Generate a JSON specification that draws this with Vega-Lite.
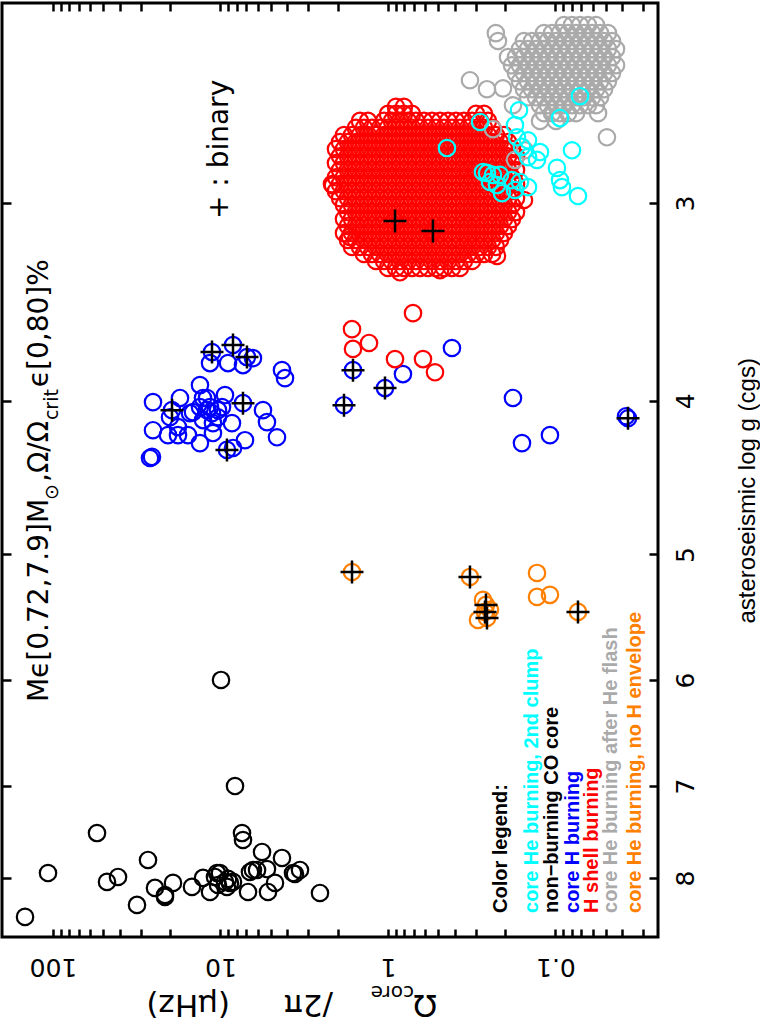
{
  "$schema": "https://vega.github.io/schema/vega-lite/v6.json",
  "width": 656,
  "height": 934,
  "autosize": "none",
  "padding": {"left": 2, "top": 3, "right": 102, "bottom": 88},
  "background": "white",
  "config": {
    "view": {"stroke": "black", "strokeWidth": 3},
    "axis": {"domain": false, "grid": false, "tickColor": "black", "labelColor": "black", "titleColor": "black"}
  },
  "datasets": {
    "pts": [
      {"w":9.93,"g":6.0,"c":"K"},{"w":8.19,"g":7.0,"c":"K"},{"w":54.6,"g":7.495,"c":"K"},{"w":7.44,"g":7.495,"c":"K"},{"w":7.34,"g":7.571,"c":"K"},{"w":27.09,"g":7.794,"c":"K"},{"w":5.65,"g":7.704,"c":"K"},{"w":4.294,"g":7.771,"c":"K"},{"w":107.1,"g":7.943,"c":"K"},{"w":40.9,"g":7.989,"c":"K"},{"w":47.6,"g":8.046,"c":"K"},{"w":6.40,"g":7.908,"c":"K"},{"w":5.278,"g":7.897,"c":"K"},{"w":3.353,"g":7.908,"c":"K"},{"w":3.592,"g":7.954,"c":"K"},{"w":10.49,"g":7.943,"c":"K"},{"w":24.61,"g":8.117,"c":"K"},{"w":21.45,"g":8.201,"c":"K"},{"w":19.21,"g":8.058,"c":"K"},{"w":14.80,"g":8.105,"c":"K"},{"w":12.72,"g":8.0,"c":"K"},{"w":11.55,"g":8.165,"c":"K"},{"w":10.79,"g":7.989,"c":"K"},{"w":10.07,"g":7.943,"c":"K"},{"w":9.40,"g":8.046,"c":"K"},{"w":8.78,"g":8.058,"c":"K"},{"w":9.15,"g":8.105,"c":"K"},{"w":8.42,"g":8.046,"c":"K"},{"w":10.35,"g":8.082,"c":"K"},{"w":9.02,"g":8.011,"c":"K"},{"w":6.85,"g":8.165,"c":"K"},{"w":6.67,"g":7.931,"c":"K"},{"w":6.05,"g":7.908,"c":"K"},{"w":5.205,"g":8.165,"c":"K"},{"w":4.727,"g":8.058,"c":"K"},{"w":3.692,"g":7.943,"c":"K"},{"w":2.547,"g":8.177,"c":"K"},{"w":31.51,"g":8.320,"c":"K"},{"w":21.45,"g":8.224,"c":"K"},{"w":146.9,"g":8.466,"c":"K"},
      {"w":11.24,"g":3.726,"c":"B","b":1},{"w":8.42,"g":3.688,"c":"B","b":1},{"w":6.95,"g":3.753,"c":"B","b":1},{"w":6.40,"g":3.759,"c":"B"},{"w":11.55,"g":3.786,"c":"B"},{"w":9.02,"g":3.786,"c":"B"},{"w":7.34,"g":3.797,"c":"B"},{"w":4.294,"g":3.825,"c":"B"},{"w":4.120,"g":3.870,"c":"B"},{"w":13.26,"g":3.909,"c":"B"},{"w":25.29,"g":4.007,"c":"B"},{"w":19.48,"g":4.054,"c":"B","b":1},{"w":17.45,"g":3.983,"c":"B"},{"w":12.04,"g":3.983,"c":"B"},{"w":9.40,"g":3.966,"c":"B"},{"w":7.34,"g":4.013,"c":"B","b":1},{"w":5.576,"g":4.054,"c":"B"},{"w":5.278,"g":4.125,"c":"B"},{"w":4.599,"g":4.217,"c":"B"},{"w":14.59,"g":4.066,"c":"B"},{"w":13.26,"g":4.036,"c":"B"},{"w":12.04,"g":4.054,"c":"B"},{"w":11.24,"g":4.072,"c":"B"},{"w":10.35,"g":4.096,"c":"B"},{"w":12.72,"g":4.113,"c":"B"},{"w":11.09,"g":4.131,"c":"B"},{"w":8.54,"g":4.131,"c":"B"},{"w":25.29,"g":4.174,"c":"B"},{"w":20.58,"g":4.204,"c":"B"},{"w":17.94,"g":4.204,"c":"B"},{"w":15.63,"g":4.204,"c":"B"},{"w":13.26,"g":4.253,"c":"B"},{"w":11.09,"g":4.191,"c":"B"},{"w":9.15,"g":4.295,"c":"B","b":1},{"w":8.42,"g":4.283,"c":"B"},{"w":7.14,"g":4.235,"c":"B"},{"w":25.64,"g":4.339,"c":"B"},{"w":26.36,"g":4.346,"c":"B"},{"w":17.94,"g":4.155,"c":"B"},{"w":11.55,"g":4.036,"c":"B"},{"w":9.79,"g":4.036,"c":"B"},{"w":15.21,"g":4.072,"c":"B"},{"w":12.72,"g":3.983,"c":"B"},{"w":10.35,"g":4.054,"c":"B"},{"w":20.02,"g":4.096,"c":"B"},{"w":1.618,"g":3.825,"c":"B","b":1},{"w":1.042,"g":3.926,"c":"B","b":1},{"w":1.831,"g":4.025,"c":"B","b":1},{"w":0.814,"g":3.847,"c":"B"},{"w":0.415,"g":3.704,"c":"B"},{"w":0.1794,"g":3.983,"c":"B"},{"w":0.1079,"g":4.204,"c":"B"},{"w":0.1585,"g":4.253,"c":"B"},{"w":0.0369,"g":4.102,"c":"B","b":1},{"w":0.0379,"g":4.090,"c":"B"},
      {"w":0.709,"g":3.521,"c":"R"},{"w":1.640,"g":3.604,"c":"R"},{"w":1.298,"g":3.677,"c":"R"},{"w":1.618,"g":3.709,"c":"R"},{"w":0.908,"g":3.764,"c":"R"},{"w":0.618,"g":3.764,"c":"R"},{"w":0.524,"g":3.837,"c":"R"},
      {"w":0.896,"g":2.609,"c":"R"},{"w":0.803,"g":2.609,"c":"R"},
      {"w":1.000,"g":2.636,"c":"R"},{"w":0.896,"g":2.636,"c":"R"},{"w":0.803,"g":2.636,"c":"R"},{"w":0.719,"g":2.636,"c":"R"},{"w":0.298,"g":2.636,"c":"R"},{"w":0.267,"g":2.636,"c":"R"},
      {"w":1.470,"g":2.663,"c":"R"},{"w":1.316,"g":2.663,"c":"R"},{"w":1.056,"g":2.663,"c":"R"},{"w":0.947,"g":2.663,"c":"R"},{"w":0.848,"g":2.663,"c":"R"},{"w":0.760,"g":2.663,"c":"R"},{"w":0.681,"g":2.663,"c":"R"},{"w":0.610,"g":2.663,"c":"R"},{"w":0.546,"g":2.663,"c":"R"},{"w":0.489,"g":2.663,"c":"R"},{"w":0.438,"g":2.663,"c":"R"},{"w":0.393,"g":2.663,"c":"R"},{"w":0.352,"g":2.663,"c":"R"},{"w":0.315,"g":2.663,"c":"R"},{"w":0.282,"g":2.663,"c":"R"},{"w":0.253,"g":2.663,"c":"R"},
      {"w":1.553,"g":2.690,"c":"R"},{"w":1.391,"g":2.690,"c":"R"},{"w":1.246,"g":2.690,"c":"R"},{"w":1.116,"g":2.690,"c":"R"},{"w":1.000,"g":2.690,"c":"R"},{"w":0.896,"g":2.690,"c":"R"},{"w":0.803,"g":2.690,"c":"R"},{"w":0.719,"g":2.690,"c":"R"},{"w":0.644,"g":2.690,"c":"R"},{"w":0.577,"g":2.690,"c":"R"},{"w":0.517,"g":2.690,"c":"R"},{"w":0.463,"g":2.690,"c":"R"},{"w":0.415,"g":2.690,"c":"R"},{"w":0.372,"g":2.690,"c":"R"},{"w":0.333,"g":2.690,"c":"R"},{"w":0.298,"g":2.690,"c":"R"},{"w":0.267,"g":2.690,"c":"R"},{"w":0.239,"g":2.690,"c":"R"},
      {"w":1.831,"g":2.718,"c":"R"},{"w":1.640,"g":2.718,"c":"R"},{"w":1.470,"g":2.718,"c":"R"},{"w":1.316,"g":2.718,"c":"R"},{"w":1.179,"g":2.718,"c":"R"},{"w":1.056,"g":2.718,"c":"R"},{"w":0.947,"g":2.718,"c":"R"},{"w":0.848,"g":2.718,"c":"R"},{"w":0.760,"g":2.718,"c":"R"},{"w":0.681,"g":2.718,"c":"R"},{"w":0.610,"g":2.718,"c":"R"},{"w":0.546,"g":2.718,"c":"R"},{"w":0.489,"g":2.718,"c":"R"},{"w":0.438,"g":2.718,"c":"R"},{"w":0.393,"g":2.718,"c":"R"},{"w":0.352,"g":2.718,"c":"R"},{"w":0.315,"g":2.718,"c":"R"},{"w":0.282,"g":2.718,"c":"R"},{"w":0.253,"g":2.718,"c":"R"},{"w":0.227,"g":2.718,"c":"R"},{"w":0.203,"g":2.718,"c":"R"},
      {"w":1.934,"g":2.746,"c":"R"},{"w":1.733,"g":2.746,"c":"R"},{"w":1.553,"g":2.746,"c":"R"},{"w":1.391,"g":2.746,"c":"R"},{"w":1.246,"g":2.746,"c":"R"},{"w":1.116,"g":2.746,"c":"R"},{"w":1.000,"g":2.746,"c":"R"},{"w":0.896,"g":2.746,"c":"R"},{"w":0.803,"g":2.746,"c":"R"},{"w":0.719,"g":2.746,"c":"R"},{"w":0.644,"g":2.746,"c":"R"},{"w":0.577,"g":2.746,"c":"R"},{"w":0.517,"g":2.746,"c":"R"},{"w":0.463,"g":2.746,"c":"R"},{"w":0.415,"g":2.746,"c":"R"},{"w":0.372,"g":2.746,"c":"R"},{"w":0.333,"g":2.746,"c":"R"},{"w":0.298,"g":2.746,"c":"R"},{"w":0.267,"g":2.746,"c":"R"},{"w":0.239,"g":2.746,"c":"R"},{"w":0.2145,"g":2.746,"c":"R"},{"w":0.192,"g":2.746,"c":"R"},
      {"w":2.044,"g":2.774,"c":"R"},{"w":1.831,"g":2.774,"c":"R"},{"w":1.640,"g":2.774,"c":"R"},{"w":1.470,"g":2.774,"c":"R"},{"w":1.316,"g":2.774,"c":"R"},{"w":1.179,"g":2.774,"c":"R"},{"w":1.056,"g":2.774,"c":"R"},{"w":0.947,"g":2.774,"c":"R"},{"w":0.848,"g":2.774,"c":"R"},{"w":0.760,"g":2.774,"c":"R"},{"w":0.681,"g":2.774,"c":"R"},{"w":0.610,"g":2.774,"c":"R"},{"w":0.546,"g":2.774,"c":"R"},{"w":0.489,"g":2.774,"c":"R"},{"w":0.438,"g":2.774,"c":"R"},{"w":0.393,"g":2.774,"c":"R"},{"w":0.352,"g":2.774,"c":"R"},{"w":0.315,"g":2.774,"c":"R"},{"w":0.282,"g":2.774,"c":"R"},{"w":0.253,"g":2.774,"c":"R"},{"w":0.227,"g":2.774,"c":"R"},{"w":0.203,"g":2.774,"c":"R"},{"w":0.182,"g":2.774,"c":"R"},
      {"w":1.934,"g":2.803,"c":"R"},{"w":1.733,"g":2.803,"c":"R"},{"w":1.553,"g":2.803,"c":"R"},{"w":1.391,"g":2.803,"c":"R"},{"w":1.246,"g":2.803,"c":"R"},{"w":1.116,"g":2.803,"c":"R"},{"w":1.000,"g":2.803,"c":"R"},{"w":0.896,"g":2.803,"c":"R"},{"w":0.803,"g":2.803,"c":"R"},{"w":0.719,"g":2.803,"c":"R"},{"w":0.644,"g":2.803,"c":"R"},{"w":0.577,"g":2.803,"c":"R"},{"w":0.517,"g":2.803,"c":"R"},{"w":0.463,"g":2.803,"c":"R"},{"w":0.415,"g":2.803,"c":"R"},{"w":0.372,"g":2.803,"c":"R"},{"w":0.333,"g":2.803,"c":"R"},{"w":0.298,"g":2.803,"c":"R"},{"w":0.267,"g":2.803,"c":"R"},{"w":0.239,"g":2.803,"c":"R"},{"w":0.2145,"g":2.803,"c":"R"},{"w":0.192,"g":2.803,"c":"R"},{"w":0.172,"g":2.803,"c":"R"},
      {"w":2.044,"g":2.831,"c":"R"},{"w":1.831,"g":2.831,"c":"R"},{"w":1.640,"g":2.831,"c":"R"},{"w":1.470,"g":2.831,"c":"R"},{"w":1.316,"g":2.831,"c":"R"},{"w":1.179,"g":2.831,"c":"R"},{"w":1.056,"g":2.831,"c":"R"},{"w":0.947,"g":2.831,"c":"R"},{"w":0.848,"g":2.831,"c":"R"},{"w":0.760,"g":2.831,"c":"R"},{"w":0.681,"g":2.831,"c":"R"},{"w":0.610,"g":2.831,"c":"R"},{"w":0.546,"g":2.831,"c":"R"},{"w":0.489,"g":2.831,"c":"R"},{"w":0.438,"g":2.831,"c":"R"},{"w":0.393,"g":2.831,"c":"R"},{"w":0.352,"g":2.831,"c":"R"},{"w":0.315,"g":2.831,"c":"R"},{"w":0.282,"g":2.831,"c":"R"},{"w":0.253,"g":2.831,"c":"R"},{"w":0.227,"g":2.831,"c":"R"},{"w":0.203,"g":2.831,"c":"R"},{"w":0.182,"g":2.831,"c":"R"},
      {"w":1.934,"g":2.860,"c":"R"},{"w":1.733,"g":2.860,"c":"R"},{"w":1.553,"g":2.860,"c":"R"},{"w":1.391,"g":2.860,"c":"R"},{"w":1.246,"g":2.860,"c":"R"},{"w":1.116,"g":2.860,"c":"R"},{"w":1.000,"g":2.860,"c":"R"},{"w":0.896,"g":2.860,"c":"R"},{"w":0.803,"g":2.860,"c":"R"},{"w":0.719,"g":2.860,"c":"R"},{"w":0.644,"g":2.860,"c":"R"},{"w":0.577,"g":2.860,"c":"R"},{"w":0.517,"g":2.860,"c":"R"},{"w":0.463,"g":2.860,"c":"R"},{"w":0.415,"g":2.860,"c":"R"},{"w":0.372,"g":2.860,"c":"R"},{"w":0.333,"g":2.860,"c":"R"},{"w":0.298,"g":2.860,"c":"R"},{"w":0.267,"g":2.860,"c":"R"},{"w":0.239,"g":2.860,"c":"R"},{"w":0.2145,"g":2.860,"c":"R"},{"w":0.192,"g":2.860,"c":"R"},{"w":0.172,"g":2.860,"c":"R"},
      {"w":2.044,"g":2.890,"c":"R"},{"w":1.831,"g":2.890,"c":"R"},{"w":1.640,"g":2.890,"c":"R"},{"w":1.470,"g":2.890,"c":"R"},{"w":1.316,"g":2.890,"c":"R"},{"w":1.179,"g":2.890,"c":"R"},{"w":1.056,"g":2.890,"c":"R"},{"w":0.947,"g":2.890,"c":"R"},{"w":0.848,"g":2.890,"c":"R"},{"w":0.760,"g":2.890,"c":"R"},{"w":0.681,"g":2.890,"c":"R"},{"w":0.610,"g":2.890,"c":"R"},{"w":0.546,"g":2.890,"c":"R"},{"w":0.489,"g":2.890,"c":"R"},{"w":0.438,"g":2.890,"c":"R"},{"w":0.393,"g":2.890,"c":"R"},{"w":0.352,"g":2.890,"c":"R"},{"w":0.315,"g":2.890,"c":"R"},{"w":0.282,"g":2.890,"c":"R"},{"w":0.253,"g":2.890,"c":"R"},{"w":0.227,"g":2.890,"c":"R"},{"w":0.203,"g":2.890,"c":"R"},{"w":0.182,"g":2.890,"c":"R"},
      {"w":2.160,"g":2.919,"c":"R"},{"w":1.934,"g":2.919,"c":"R"},{"w":1.733,"g":2.919,"c":"R"},{"w":1.553,"g":2.919,"c":"R"},{"w":1.391,"g":2.919,"c":"R"},{"w":1.246,"g":2.919,"c":"R"},{"w":1.116,"g":2.919,"c":"R"},{"w":1.000,"g":2.919,"c":"R"},{"w":0.896,"g":2.919,"c":"R"},{"w":0.803,"g":2.919,"c":"R"},{"w":0.719,"g":2.919,"c":"R"},{"w":0.644,"g":2.919,"c":"R"},{"w":0.577,"g":2.919,"c":"R"},{"w":0.517,"g":2.919,"c":"R"},{"w":0.463,"g":2.919,"c":"R"},{"w":0.415,"g":2.919,"c":"R"},{"w":0.372,"g":2.919,"c":"R"},{"w":0.333,"g":2.919,"c":"R"},{"w":0.298,"g":2.919,"c":"R"},{"w":0.267,"g":2.919,"c":"R"},{"w":0.239,"g":2.919,"c":"R"},{"w":0.2145,"g":2.919,"c":"R"},{"w":0.192,"g":2.919,"c":"R"},{"w":0.172,"g":2.919,"c":"R"},
      {"w":2.044,"g":2.949,"c":"R"},{"w":1.831,"g":2.949,"c":"R"},{"w":1.640,"g":2.949,"c":"R"},{"w":1.470,"g":2.949,"c":"R"},{"w":1.316,"g":2.949,"c":"R"},{"w":1.179,"g":2.949,"c":"R"},{"w":1.056,"g":2.949,"c":"R"},{"w":0.947,"g":2.949,"c":"R"},{"w":0.848,"g":2.949,"c":"R"},{"w":0.760,"g":2.949,"c":"R"},{"w":0.681,"g":2.949,"c":"R"},{"w":0.610,"g":2.949,"c":"R"},{"w":0.546,"g":2.949,"c":"R"},{"w":0.489,"g":2.949,"c":"R"},{"w":0.438,"g":2.949,"c":"R"},{"w":0.393,"g":2.949,"c":"R"},{"w":0.352,"g":2.949,"c":"R"},{"w":0.315,"g":2.949,"c":"R"},{"w":0.282,"g":2.949,"c":"R"},{"w":0.253,"g":2.949,"c":"R"},{"w":0.227,"g":2.949,"c":"R"},{"w":0.203,"g":2.949,"c":"R"},{"w":0.182,"g":2.949,"c":"R"},
      {"w":1.934,"g":2.979,"c":"R"},{"w":1.733,"g":2.979,"c":"R"},{"w":1.553,"g":2.979,"c":"R"},{"w":1.391,"g":2.979,"c":"R"},{"w":1.246,"g":2.979,"c":"R"},{"w":1.116,"g":2.979,"c":"R"},{"w":1.000,"g":2.979,"c":"R"},{"w":0.896,"g":2.979,"c":"R"},{"w":0.803,"g":2.979,"c":"R"},{"w":0.719,"g":2.979,"c":"R"},{"w":0.644,"g":2.979,"c":"R"},{"w":0.577,"g":2.979,"c":"R"},{"w":0.517,"g":2.979,"c":"R"},{"w":0.463,"g":2.979,"c":"R"},{"w":0.415,"g":2.979,"c":"R"},{"w":0.372,"g":2.979,"c":"R"},{"w":0.333,"g":2.979,"c":"R"},{"w":0.298,"g":2.979,"c":"R"},{"w":0.267,"g":2.979,"c":"R"},{"w":0.239,"g":2.979,"c":"R"},{"w":0.2145,"g":2.979,"c":"R"},{"w":0.192,"g":2.979,"c":"R"},{"w":0.172,"g":2.979,"c":"R"},
      {"w":1.831,"g":3.009,"c":"R"},{"w":1.640,"g":3.009,"c":"R"},{"w":1.470,"g":3.009,"c":"R"},{"w":1.316,"g":3.009,"c":"R"},{"w":1.179,"g":3.009,"c":"R"},{"w":1.056,"g":3.009,"c":"R"},{"w":0.947,"g":3.009,"c":"R"},{"w":0.848,"g":3.009,"c":"R"},{"w":0.760,"g":3.009,"c":"R"},{"w":0.681,"g":3.009,"c":"R"},{"w":0.610,"g":3.009,"c":"R"},{"w":0.546,"g":3.009,"c":"R"},{"w":0.489,"g":3.009,"c":"R"},{"w":0.438,"g":3.009,"c":"R"},{"w":0.393,"g":3.009,"c":"R"},{"w":0.352,"g":3.009,"c":"R"},{"w":0.315,"g":3.009,"c":"R"},{"w":0.282,"g":3.009,"c":"R"},{"w":0.253,"g":3.009,"c":"R"},{"w":0.227,"g":3.009,"c":"R"},{"w":0.203,"g":3.009,"c":"R"},{"w":0.182,"g":3.009,"c":"R"},
      {"w":1.733,"g":3.040,"c":"R"},{"w":1.553,"g":3.040,"c":"R"},{"w":1.391,"g":3.040,"c":"R"},{"w":1.246,"g":3.040,"c":"R"},{"w":1.116,"g":3.040,"c":"R"},{"w":1.000,"g":3.040,"c":"R"},{"w":0.896,"g":3.040,"c":"R"},{"w":0.803,"g":3.040,"c":"R"},{"w":0.719,"g":3.040,"c":"R"},{"w":0.644,"g":3.040,"c":"R"},{"w":0.577,"g":3.040,"c":"R"},{"w":0.517,"g":3.040,"c":"R"},{"w":0.463,"g":3.040,"c":"R"},{"w":0.415,"g":3.040,"c":"R"},{"w":0.372,"g":3.040,"c":"R"},{"w":0.333,"g":3.040,"c":"R"},{"w":0.298,"g":3.040,"c":"R"},{"w":0.267,"g":3.040,"c":"R"},{"w":0.239,"g":3.040,"c":"R"},{"w":0.2145,"g":3.040,"c":"R"},{"w":0.192,"g":3.040,"c":"R"},{"w":0.172,"g":3.040,"c":"R"},
      {"w":1.831,"g":3.071,"c":"R"},{"w":1.640,"g":3.071,"c":"R"},{"w":1.470,"g":3.071,"c":"R"},{"w":1.316,"g":3.071,"c":"R"},{"w":1.179,"g":3.071,"c":"R"},{"w":1.056,"g":3.071,"c":"R"},{"w":0.947,"g":3.071,"c":"R"},{"w":0.848,"g":3.071,"c":"R"},{"w":0.760,"g":3.071,"c":"R"},{"w":0.681,"g":3.071,"c":"R"},{"w":0.610,"g":3.071,"c":"R"},{"w":0.546,"g":3.071,"c":"R"},{"w":0.489,"g":3.071,"c":"R"},{"w":0.438,"g":3.071,"c":"R"},{"w":0.393,"g":3.071,"c":"R"},{"w":0.352,"g":3.071,"c":"R"},{"w":0.315,"g":3.071,"c":"R"},{"w":0.282,"g":3.071,"c":"R"},{"w":0.253,"g":3.071,"c":"R"},{"w":0.227,"g":3.071,"c":"R"},{"w":0.203,"g":3.071,"c":"R"},{"w":0.182,"g":3.071,"c":"R"},
      {"w":1.733,"g":3.102,"c":"R"},{"w":1.553,"g":3.102,"c":"R"},{"w":1.391,"g":3.102,"c":"R"},{"w":1.246,"g":3.102,"c":"R"},{"w":1.116,"g":3.102,"c":"R"},{"w":1.000,"g":3.102,"c":"R"},{"w":0.896,"g":3.102,"c":"R"},{"w":0.803,"g":3.102,"c":"R"},{"w":0.719,"g":3.102,"c":"R"},{"w":0.644,"g":3.102,"c":"R"},{"w":0.577,"g":3.102,"c":"R"},{"w":0.517,"g":3.102,"c":"R"},{"w":0.463,"g":3.102,"c":"R"},{"w":0.415,"g":3.102,"c":"R"},{"w":0.372,"g":3.102,"c":"R"},{"w":0.333,"g":3.102,"c":"R"},{"w":0.298,"g":3.102,"c":"R"},{"w":0.267,"g":3.102,"c":"R"},{"w":0.239,"g":3.102,"c":"R"},{"w":0.2145,"g":3.102,"c":"R"},{"w":0.192,"g":3.102,"c":"R"},
      {"w":1.831,"g":3.134,"c":"R"},{"w":1.640,"g":3.134,"c":"R"},{"w":1.470,"g":3.134,"c":"R"},{"w":1.316,"g":3.134,"c":"R"},{"w":1.179,"g":3.134,"c":"R"},{"w":1.056,"g":3.134,"c":"R"},{"w":0.947,"g":3.134,"c":"R"},{"w":0.848,"g":3.134,"c":"R"},{"w":0.760,"g":3.134,"c":"R"},{"w":0.681,"g":3.134,"c":"R"},{"w":0.610,"g":3.134,"c":"R"},{"w":0.546,"g":3.134,"c":"R"},{"w":0.489,"g":3.134,"c":"R"},{"w":0.438,"g":3.134,"c":"R"},{"w":0.393,"g":3.134,"c":"R"},{"w":0.352,"g":3.134,"c":"R"},{"w":0.315,"g":3.134,"c":"R"},{"w":0.282,"g":3.134,"c":"R"},{"w":0.253,"g":3.134,"c":"R"},{"w":0.227,"g":3.134,"c":"R"},{"w":0.203,"g":3.134,"c":"R"},
      {"w":1.733,"g":3.166,"c":"R"},{"w":1.553,"g":3.166,"c":"R"},{"w":1.391,"g":3.166,"c":"R"},{"w":1.246,"g":3.166,"c":"R"},{"w":1.116,"g":3.166,"c":"R"},{"w":1.000,"g":3.166,"c":"R"},{"w":0.896,"g":3.166,"c":"R"},{"w":0.803,"g":3.166,"c":"R"},{"w":0.719,"g":3.166,"c":"R"},{"w":0.644,"g":3.166,"c":"R"},{"w":0.577,"g":3.166,"c":"R"},{"w":0.517,"g":3.166,"c":"R"},{"w":0.463,"g":3.166,"c":"R"},{"w":0.415,"g":3.166,"c":"R"},{"w":0.372,"g":3.166,"c":"R"},{"w":0.333,"g":3.166,"c":"R"},{"w":0.298,"g":3.166,"c":"R"},{"w":0.267,"g":3.166,"c":"R"},{"w":0.239,"g":3.166,"c":"R"},{"w":0.2145,"g":3.166,"c":"R"},
      {"w":1.640,"g":3.198,"c":"R"},{"w":1.470,"g":3.198,"c":"R"},{"w":1.316,"g":3.198,"c":"R"},{"w":1.179,"g":3.198,"c":"R"},{"w":1.056,"g":3.198,"c":"R"},{"w":0.947,"g":3.198,"c":"R"},{"w":0.848,"g":3.198,"c":"R"},{"w":0.760,"g":3.198,"c":"R"},{"w":0.681,"g":3.198,"c":"R"},{"w":0.610,"g":3.198,"c":"R"},{"w":0.546,"g":3.198,"c":"R"},{"w":0.489,"g":3.198,"c":"R"},{"w":0.438,"g":3.198,"c":"R"},{"w":0.393,"g":3.198,"c":"R"},{"w":0.352,"g":3.198,"c":"R"},{"w":0.315,"g":3.198,"c":"R"},{"w":0.282,"g":3.198,"c":"R"},{"w":0.253,"g":3.198,"c":"R"},{"w":0.227,"g":3.198,"c":"R"},
      {"w":1.391,"g":3.231,"c":"R"},{"w":1.246,"g":3.231,"c":"R"},{"w":1.116,"g":3.231,"c":"R"},{"w":1.000,"g":3.231,"c":"R"},{"w":0.896,"g":3.231,"c":"R"},{"w":0.803,"g":3.231,"c":"R"},{"w":0.719,"g":3.231,"c":"R"},{"w":0.644,"g":3.231,"c":"R"},{"w":0.577,"g":3.231,"c":"R"},{"w":0.517,"g":3.231,"c":"R"},{"w":0.463,"g":3.231,"c":"R"},{"w":0.415,"g":3.231,"c":"R"},{"w":0.372,"g":3.231,"c":"R"},{"w":0.333,"g":3.231,"c":"R"},{"w":0.298,"g":3.231,"c":"R"},{"w":0.267,"g":3.231,"c":"R"},{"w":0.239,"g":3.231,"c":"R"},
      {"w":1.179,"g":3.264,"c":"R"},{"w":1.056,"g":3.264,"c":"R"},{"w":0.947,"g":3.264,"c":"R"},{"w":0.848,"g":3.264,"c":"R"},{"w":0.760,"g":3.264,"c":"R"},{"w":0.681,"g":3.264,"c":"R"},{"w":0.610,"g":3.264,"c":"R"},{"w":0.546,"g":3.264,"c":"R"},{"w":0.489,"g":3.264,"c":"R"},{"w":0.438,"g":3.264,"c":"R"},{"w":0.393,"g":3.264,"c":"R"},{"w":0.352,"g":3.264,"c":"R"},{"w":0.315,"g":3.264,"c":"R"},
      {"w":1.000,"g":3.297,"c":"R"},{"w":0.896,"g":3.297,"c":"R"},{"w":0.803,"g":3.297,"c":"R"},{"w":0.719,"g":3.297,"c":"R"},{"w":0.644,"g":3.297,"c":"R"},{"w":0.577,"g":3.297,"c":"R"},{"w":0.517,"g":3.297,"c":"R"},{"w":0.463,"g":3.297,"c":"R"},{"w":0.415,"g":3.297,"c":"R"},{"w":0.372,"g":3.297,"c":"R"},
      {"w":2.130,"g":2.925,"c":"R"},{"w":1.686,"g":3.152,"c":"R"},{"w":0.848,"g":3.318,"c":"R"},{"w":0.489,"g":3.308,"c":"R"},{"w":0.2236,"g":3.240,"c":"R"},{"w":0.1542,"g":2.987,"c":"R"},
      {"w":0.908,"g":3.080,"c":"R","b":1},{"w":0.539,"g":3.125,"c":"R","b":1},
      {"w":1.640,"g":5.129,"c":"O","b":1},{"w":0.324,"g":5.166,"c":"O","b":1},{"w":0.2709,"g":5.341,"c":"O"},{"w":0.2636,"g":5.435,"c":"O","b":1},{"w":0.2460,"g":5.419,"c":"O"},{"w":0.2902,"g":5.499,"c":"O"},{"w":0.2564,"g":5.483,"c":"O","b":1},{"w":0.2600,"g":5.380,"c":"O","b":1},{"w":0.1289,"g":5.136,"c":"O"},{"w":0.1289,"g":5.318,"c":"O"},{"w":0.1079,"g":5.302,"c":"O"},{"w":0.0734,"g":5.435,"c":"O","b":1},
      {"w":0.0890,"g":2.317,"c":"G"},{"w":0.0797,"g":2.317,"c":"G"},{"w":0.0714,"g":2.317,"c":"G"},{"w":0.0640,"g":2.317,"c":"G"},{"w":0.0573,"g":2.317,"c":"G"},
      {"w":0.1171,"g":2.344,"c":"G"},{"w":0.1049,"g":2.344,"c":"G"},{"w":0.0940,"g":2.344,"c":"G"},{"w":0.0842,"g":2.344,"c":"G"},{"w":0.0754,"g":2.344,"c":"G"},{"w":0.0676,"g":2.344,"c":"G"},{"w":0.0605,"g":2.344,"c":"G"},{"w":0.0542,"g":2.344,"c":"G"},{"w":0.0486,"g":2.344,"c":"G"},{"w":0.227,"g":2.344,"c":"G"},
      {"w":0.1542,"g":2.371,"c":"G"},{"w":0.1381,"g":2.371,"c":"G"},{"w":0.1237,"g":2.371,"c":"G"},{"w":0.1109,"g":2.371,"c":"G"},{"w":0.0993,"g":2.371,"c":"G"},{"w":0.0890,"g":2.371,"c":"G"},{"w":0.0797,"g":2.371,"c":"G"},{"w":0.0714,"g":2.371,"c":"G"},{"w":0.0640,"g":2.371,"c":"G"},{"w":0.0573,"g":2.371,"c":"G"},{"w":0.0513,"g":2.371,"c":"G"},{"w":0.0460,"g":2.371,"c":"G"},{"w":0.2205,"g":2.371,"c":"G"},
      {"w":0.1629,"g":2.399,"c":"G"},{"w":0.1459,"g":2.399,"c":"G"},{"w":0.1307,"g":2.399,"c":"G"},{"w":0.1171,"g":2.399,"c":"G"},{"w":0.1049,"g":2.399,"c":"G"},{"w":0.0940,"g":2.399,"c":"G"},{"w":0.0842,"g":2.399,"c":"G"},{"w":0.0754,"g":2.399,"c":"G"},{"w":0.0676,"g":2.399,"c":"G"},{"w":0.0605,"g":2.399,"c":"G"},{"w":0.0542,"g":2.399,"c":"G"},{"w":0.0486,"g":2.399,"c":"G"},{"w":0.0435,"g":2.399,"c":"G"},
      {"w":0.1921,"g":2.427,"c":"G"},{"w":0.1721,"g":2.427,"c":"G"},{"w":0.1542,"g":2.427,"c":"G"},{"w":0.1381,"g":2.427,"c":"G"},{"w":0.1237,"g":2.427,"c":"G"},{"w":0.1109,"g":2.427,"c":"G"},{"w":0.0993,"g":2.427,"c":"G"},{"w":0.0890,"g":2.427,"c":"G"},{"w":0.0797,"g":2.427,"c":"G"},{"w":0.0714,"g":2.427,"c":"G"},{"w":0.0640,"g":2.427,"c":"G"},{"w":0.0573,"g":2.427,"c":"G"},{"w":0.0513,"g":2.427,"c":"G"},{"w":0.0460,"g":2.427,"c":"G"},
      {"w":0.1818,"g":2.456,"c":"G"},{"w":0.1629,"g":2.456,"c":"G"},{"w":0.1459,"g":2.456,"c":"G"},{"w":0.1307,"g":2.456,"c":"G"},{"w":0.1171,"g":2.456,"c":"G"},{"w":0.1049,"g":2.456,"c":"G"},{"w":0.0940,"g":2.456,"c":"G"},{"w":0.0842,"g":2.456,"c":"G"},{"w":0.0754,"g":2.456,"c":"G"},{"w":0.0676,"g":2.456,"c":"G"},{"w":0.0605,"g":2.456,"c":"G"},{"w":0.0542,"g":2.456,"c":"G"},{"w":0.0486,"g":2.456,"c":"G"},{"w":0.0435,"g":2.456,"c":"G"},
      {"w":0.1721,"g":2.484,"c":"G"},{"w":0.1542,"g":2.484,"c":"G"},{"w":0.1381,"g":2.484,"c":"G"},{"w":0.1237,"g":2.484,"c":"G"},{"w":0.1109,"g":2.484,"c":"G"},{"w":0.0993,"g":2.484,"c":"G"},{"w":0.0890,"g":2.484,"c":"G"},{"w":0.0797,"g":2.484,"c":"G"},{"w":0.0714,"g":2.484,"c":"G"},{"w":0.0640,"g":2.484,"c":"G"},{"w":0.0573,"g":2.484,"c":"G"},{"w":0.0513,"g":2.484,"c":"G"},{"w":0.0460,"g":2.484,"c":"G"},
      {"w":0.1629,"g":2.514,"c":"G"},{"w":0.1459,"g":2.514,"c":"G"},{"w":0.1307,"g":2.514,"c":"G"},{"w":0.1171,"g":2.514,"c":"G"},{"w":0.1049,"g":2.514,"c":"G"},{"w":0.0940,"g":2.514,"c":"G"},{"w":0.0842,"g":2.514,"c":"G"},{"w":0.0754,"g":2.514,"c":"G"},{"w":0.0676,"g":2.514,"c":"G"},{"w":0.0605,"g":2.514,"c":"G"},{"w":0.0542,"g":2.514,"c":"G"},{"w":0.0486,"g":2.514,"c":"G"},{"w":0.324,"g":2.510,"c":"G"},
      {"w":0.1542,"g":2.543,"c":"G"},{"w":0.1381,"g":2.543,"c":"G"},{"w":0.1237,"g":2.543,"c":"G"},{"w":0.1109,"g":2.543,"c":"G"},{"w":0.0993,"g":2.543,"c":"G"},{"w":0.0890,"g":2.543,"c":"G"},{"w":0.0797,"g":2.543,"c":"G"},{"w":0.0714,"g":2.543,"c":"G"},{"w":0.0640,"g":2.543,"c":"G"},{"w":0.0573,"g":2.543,"c":"G"},{"w":0.0513,"g":2.543,"c":"G"},{"w":0.2564,"g":2.543,"c":"G"},{"w":0.2058,"g":2.540,"c":"G"},
      {"w":0.1459,"g":2.573,"c":"G"},{"w":0.1307,"g":2.573,"c":"G"},{"w":0.1171,"g":2.573,"c":"G"},{"w":0.1049,"g":2.573,"c":"G"},{"w":0.0940,"g":2.573,"c":"G"},{"w":0.0842,"g":2.573,"c":"G"},{"w":0.0754,"g":2.573,"c":"G"},{"w":0.0676,"g":2.573,"c":"G"},{"w":0.0605,"g":2.573,"c":"G"},{"w":0.0542,"g":2.573,"c":"G"},
      {"w":0.1237,"g":2.603,"c":"G"},{"w":0.1109,"g":2.603,"c":"G"},{"w":0.0993,"g":2.603,"c":"G"},{"w":0.0890,"g":2.603,"c":"G"},{"w":0.0797,"g":2.603,"c":"G"},{"w":0.0714,"g":2.603,"c":"G"},{"w":0.0640,"g":2.603,"c":"G"},{"w":0.0573,"g":2.603,"c":"G"},{"w":0.1794,"g":2.603,"c":"G"},
      {"w":0.1171,"g":2.633,"c":"G"},{"w":0.1049,"g":2.633,"c":"G"},{"w":0.0940,"g":2.633,"c":"G"},{"w":0.0842,"g":2.633,"c":"G"},{"w":0.0754,"g":2.633,"c":"G"},{"w":0.0557,"g":2.633,"c":"G"},
      {"w":0.1237,"g":2.663,"c":"G"},{"w":0.0993,"g":2.663,"c":"G"},{"w":0.2361,"g":2.695,"c":"G"},{"w":0.0493,"g":2.727,"c":"G"},{"w":0.1521,"g":2.779,"c":"G"},{"w":0.1745,"g":2.818,"c":"G"},
      {"w":0.0714,"g":2.569,"c":"C"},{"w":0.0940,"g":2.652,"c":"C"},{"w":0.1651,"g":2.622,"c":"C"},{"w":0.282,"g":2.667,"c":"C"},{"w":0.4444,"g":2.770,"c":"C"},{"w":0.1745,"g":2.679,"c":"C"},{"w":0.1698,"g":2.727,"c":"C"},{"w":0.1459,"g":2.739,"c":"C"},{"w":0.1585,"g":2.765,"c":"C"},{"w":0.1237,"g":2.786,"c":"C"},{"w":0.1459,"g":2.807,"c":"C"},{"w":0.1289,"g":2.818,"c":"C"},{"w":0.0797,"g":2.779,"c":"C"},{"w":0.0980,"g":2.851,"c":"C"},{"w":0.0940,"g":2.902,"c":"C"},{"w":0.0915,"g":2.932,"c":"C"},{"w":0.0734,"g":2.970,"c":"C"},{"w":0.2564,"g":2.872,"c":"C"},{"w":0.2361,"g":2.880,"c":"C"},{"w":0.2145,"g":2.880,"c":"C"},{"w":0.2460,"g":2.910,"c":"C"},{"w":0.2086,"g":2.958,"c":"C"},{"w":0.1745,"g":2.944,"c":"C"},{"w":0.1629,"g":2.910,"c":"C"},{"w":0.1459,"g":2.932,"c":"C"},{"w":0.1818,"g":2.902,"c":"C"},{"w":0.2709,"g":2.868,"c":"C"},{"w":0.2236,"g":2.923,"c":"C"}
    ],
    "ann": [
      {"t":"Mϵ[0.72,7.9]M","w":107.1,"g":6.196},
      {"t":",Ω/Ω","w":107.1,"g":4.500},
      {"t":"ϵ[0,80]%","w":107.1,"g":3.921}
    ],
    "sub": [
      {"t":"⊙","w":93.36,"g":4.619},
      {"t":"crit","w":93.36,"g":4.113}
    ],
    "bin": [{"t":"+ : binary","w":9.02,"g":3.071}],
    "leg": [
      {"t":"Color legend:","w":0.1948,"g":8.418,"c":"K"},
      {"t":"core He burning, 2nd clump","w":0.1272,"g":8.418,"c":"C"},
      {"t":"non−burning CO core","w":0.0966,"g":8.418,"c":"K"},
      {"t":"core H burning","w":0.0724,"g":8.418,"c":"B"},
      {"t":"H shell burning","w":0.0557,"g":8.418,"c":"R"},
      {"t":"core He burning after He flash","w":0.0429,"g":8.418,"c":"G"},
      {"t":"core He burning, no H envelope","w":0.0309,"g":8.418,"c":"O"}
    ],
    "xt": [
      {"t":"Ω","w":0.510,"g":9.483},
      {"t":"/2π","w":2.130,"g":9.483},
      {"t":"(μHz)","w":8.78,"g":9.483}
    ],
    "xs": [{"t":"core","w":0.6995,"g":9.359}]
  },
  "layer": [
    {
      "data": {"name": "pts"},
      "mark": {"type": "point", "shape": "circle", "filled": false, "size": 270, "strokeWidth": 2.2, "opacity": 1},
      "encoding": {
        "x": {"field": "w", "type": "quantitative",
          "scale": {"type": "log", "domain": [0.02443, 201.6], "reverse": true, "nice": false},
          "axis": {"orient": "bottom", "title": null,
            "values": [0.03,0.04,0.05,0.06,0.07,0.08,0.09,0.1,0.2,0.3,0.4,0.5,0.6,0.7,0.8,0.9,1,2,3,4,5,6,7,8,9,10,20,30,40,50,60,70,80,90,100],
            "labelExpr": "datum.value === 100 ? '100' : datum.value === 10 ? '10' : datum.value === 1 ? '1' : datum.value === 0.1 ? '0.1' : ''",
            "tickSize": -8, "tickWidth": 2.5,
            "labelAngle": 180, "labelAlign": "center", "labelBaseline": "alphabetic", "labelPadding": 29,
            "labelFont": "DejaVu Sans", "labelFontSize": 25, "labelOverlap": false, "labelFlush": false,
            "encode": {"ticks": {"update": {"y2": {"signal": "(datum.value === 0.1 || datum.value === 1 || datum.value === 10 || datum.value === 100) ? -13 : -8"}}}}
          }
        },
        "y": {"field": "g", "type": "quantitative",
          "scale": {"type": "log", "domain": [2.2436, 8.717], "reverse": true, "nice": false},
          "axis": {"orient": "right", "values": [3,4,5,6,7,8], "labelExpr": "'' + datum.value",
            "tickSize": -9, "tickWidth": 2.5,
            "labelAngle": 270, "labelAlign": "center", "labelBaseline": "alphabetic", "labelPadding": 44,
            "labelFont": "DejaVu Sans", "labelFontSize": 25, "labelOverlap": false, "labelFlush": false,
            "title": "asteroseismic log g (cgs)", "titleAngle": 270, "titleAlign": "left", "titleBaseline": "alphabetic",
            "titleX": 96, "titleY": 620, "titleFont": "Liberation Sans", "titleFontSize": 24, "titleFontWeight": "normal"
          }
        },
        "color": {"field": "c", "type": "nominal",
          "scale": {"domain": ["K","B","R","O","G","C"], "range": ["#000000","#0000ff","#ff0000","#ff8000","#aaaaaa","#00ffff"]},
          "legend": null}
      }
    },
    {
      "data": {"name": "pts"},
      "transform": [{"filter": "datum.b === 1"}],
      "mark": {"type": "point", "shape": "M-1,0L1,0M0,-1L0,1", "filled": false, "size": 529, "strokeWidth": 2.5, "color": "black", "opacity": 1},
      "encoding": {
        "x": {"field": "w", "type": "quantitative",
          "scale": {"type": "log", "domain": [0.02443, 201.6], "reverse": true, "nice": false},
          "axis": {"orient": "top", "title": null, "labels": false,
            "values": [0.03,0.04,0.05,0.06,0.07,0.08,0.09,0.1,0.2,0.3,0.4,0.5,0.6,0.7,0.8,0.9,1,2,3,4,5,6,7,8,9,10,20,30,40,50,60,70,80,90,100],
            "tickSize": -8, "tickWidth": 2.5,
            "encode": {"ticks": {"update": {"y2": {"signal": "(datum.value === 0.1 || datum.value === 1 || datum.value === 10 || datum.value === 100) ? 13 : 8"}}}}
          }
        },
        "y": {"field": "g", "type": "quantitative",
          "scale": {"type": "log", "domain": [2.2436, 8.717], "reverse": true, "nice": false},
          "axis": {"orient": "left", "values": [3,4,5,6,7,8], "labels": false, "title": null, "tickSize": -9, "tickWidth": 2.5}
        }
      }
    },
    {
      "data": {"name": "ann"},
      "mark": {"type": "text", "angle": 270, "align": "left", "baseline": "alphabetic", "font": "DejaVu Sans", "fontSize": 28, "color": "black"},
      "encoding": {
        "x": {"field": "w", "type": "quantitative", "scale": {"type": "log", "domain": [0.02443, 201.6], "reverse": true, "nice": false}, "axis": null},
        "y": {"field": "g", "type": "quantitative", "scale": {"type": "log", "domain": [2.2436, 8.717], "reverse": true, "nice": false}, "axis": null},
        "text": {"field": "t"}
      }
    },
    {
      "data": {"name": "sub"},
      "mark": {"type": "text", "angle": 270, "align": "left", "baseline": "alphabetic", "font": "DejaVu Sans", "fontSize": 19, "color": "black"},
      "encoding": {
        "x": {"field": "w", "type": "quantitative", "scale": {"type": "log", "domain": [0.02443, 201.6], "reverse": true, "nice": false}, "axis": null},
        "y": {"field": "g", "type": "quantitative", "scale": {"type": "log", "domain": [2.2436, 8.717], "reverse": true, "nice": false}, "axis": null},
        "text": {"field": "t"}
      }
    },
    {
      "data": {"name": "bin"},
      "mark": {"type": "text", "angle": 270, "align": "left", "baseline": "alphabetic", "font": "DejaVu Sans", "fontSize": 28, "color": "black"},
      "encoding": {
        "x": {"field": "w", "type": "quantitative", "scale": {"type": "log", "domain": [0.02443, 201.6], "reverse": true, "nice": false}, "axis": null},
        "y": {"field": "g", "type": "quantitative", "scale": {"type": "log", "domain": [2.2436, 8.717], "reverse": true, "nice": false}, "axis": null},
        "text": {"field": "t"}
      }
    },
    {
      "data": {"name": "leg"},
      "mark": {"type": "text", "angle": 270, "align": "left", "baseline": "alphabetic", "font": "Liberation Sans", "fontWeight": "bold", "fontSize": 20},
      "encoding": {
        "x": {"field": "w", "type": "quantitative", "scale": {"type": "log", "domain": [0.02443, 201.6], "reverse": true, "nice": false}, "axis": null},
        "y": {"field": "g", "type": "quantitative", "scale": {"type": "log", "domain": [2.2436, 8.717], "reverse": true, "nice": false}, "axis": null},
        "text": {"field": "t"},
        "color": {"field": "c", "type": "nominal",
          "scale": {"domain": ["K","B","R","O","G","C"], "range": ["#000000","#0000ff","#ff0000","#ff8000","#aaaaaa","#00ffff"]},
          "legend": null}
      }
    },
    {
      "data": {"name": "xt"},
      "mark": {"type": "text", "angle": 180, "align": "left", "baseline": "alphabetic", "font": "DejaVu Sans", "fontSize": 31, "color": "black"},
      "encoding": {
        "x": {"field": "w", "type": "quantitative", "scale": {"type": "log", "domain": [0.02443, 201.6], "reverse": true, "nice": false}, "axis": null},
        "y": {"field": "g", "type": "quantitative", "scale": {"type": "log", "domain": [2.2436, 8.717], "reverse": true, "nice": false}, "axis": null},
        "text": {"field": "t"}
      }
    },
    {
      "data": {"name": "xs"},
      "mark": {"type": "text", "angle": 180, "align": "left", "baseline": "alphabetic", "font": "DejaVu Sans", "fontSize": 20, "color": "black"},
      "encoding": {
        "x": {"field": "w", "type": "quantitative", "scale": {"type": "log", "domain": [0.02443, 201.6], "reverse": true, "nice": false}, "axis": null},
        "y": {"field": "g", "type": "quantitative", "scale": {"type": "log", "domain": [2.2436, 8.717], "reverse": true, "nice": false}, "axis": null},
        "text": {"field": "t"}
      }
    }
  ],
  "resolve": {"axis": {"x": "independent", "y": "independent"}}
}
